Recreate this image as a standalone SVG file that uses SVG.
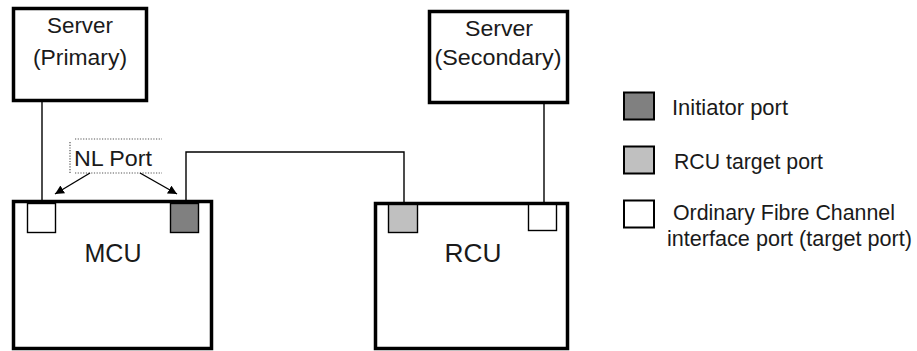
<svg xmlns="http://www.w3.org/2000/svg" width="917" height="351" viewBox="0 0 917 351">
<defs>
<style>
.box{fill:#fff;stroke:#000;stroke-width:3.5}
.port{stroke:#000;stroke-width:1.4}
.leg{stroke:#000;stroke-width:2}
.w{fill:#fff}.d{fill:#808080}.l{fill:#c0c0c0}
.t{font-family:"Liberation Sans",Arial,sans-serif;fill:#1a1a1a;font-size:22px}
.c{text-anchor:middle}
.ln{fill:none;stroke:#000;stroke-width:1.4}
.dot{fill:none;stroke:#555;stroke-width:1.2;stroke-dasharray:1.2,1.5}
</style>
<marker id="ah" viewBox="0 0 10 10" refX="10" refY="5" markerWidth="9" markerHeight="9" markerUnits="userSpaceOnUse" orient="auto">
<path d="M0,0 L10,5 L0,10 z" fill="#000"/>
</marker>
</defs>
<g id="connectors">
<path class="ln" d="M42,102 V202"/>
<path class="ln" d="M186,203 V152 H404 V204"/>
<path class="ln" d="M544,104 V204"/>
</g>
<g id="server-primary">
<rect class="box" x="13.5" y="8.5" width="133" height="92"/>
<text class="t c" x="80" y="33" textLength="66" lengthAdjust="spacingAndGlyphs">Server</text>
<text class="t c" x="80" y="65" textLength="94" lengthAdjust="spacingAndGlyphs">(Primary)</text>
</g>
<g id="server-secondary">
<rect class="box" x="429.5" y="11.5" width="138" height="91"/>
<text class="t c" x="499" y="36" textLength="68" lengthAdjust="spacingAndGlyphs">Server</text>
<text class="t c" x="498" y="65" textLength="127" lengthAdjust="spacingAndGlyphs">(Secondary)</text>
</g>
<g id="mcu">
<rect class="box" x="13.5" y="201.5" width="198" height="147"/>
<rect class="port w" x="27.5" y="203.5" width="28" height="29"/>
<rect class="port d" x="170.5" y="203.5" width="28" height="29"/>
<text class="t c" x="113" y="262" style="font-size:25px" textLength="57" lengthAdjust="spacingAndGlyphs">MCU</text>
</g>
<g id="rcu">
<rect class="box" x="375.5" y="203.5" width="192" height="145"/>
<rect class="port l" x="388.5" y="204.5" width="29" height="28"/>
<rect class="port w" x="528.5" y="204.5" width="28" height="26"/>
<text class="t c" x="473" y="262" style="font-size:25px" textLength="57" lengthAdjust="spacingAndGlyphs">RCU</text>
</g>
<g id="nl-port">
<path class="dot" d="M75,139 H162 M70,142 V173 M75,173 H162"/>
<text class="t" x="74" y="166" textLength="78" lengthAdjust="spacingAndGlyphs">NL Port</text>
<path class="ln" d="M90,173 L55,194" marker-end="url(#ah)"/>
<path class="ln" d="M140,173 L177,194" marker-end="url(#ah)"/>
</g>
<g id="legend">
<rect class="leg d" x="624" y="92.5" width="30" height="27"/>
<text class="t" x="672" y="115" textLength="116" lengthAdjust="spacingAndGlyphs">Initiator port</text>
<rect class="leg l" x="624" y="146.5" width="30" height="27"/>
<text class="t" x="674" y="169" textLength="149" lengthAdjust="spacingAndGlyphs">RCU target port</text>
<rect class="leg w" x="624" y="200.5" width="30" height="27"/>
<text class="t" x="673" y="220" textLength="222" lengthAdjust="spacingAndGlyphs">Ordinary Fibre Channel</text>
<text class="t" x="667" y="246" textLength="245" lengthAdjust="spacingAndGlyphs">interface port (target port)</text>
</g>
</svg>
